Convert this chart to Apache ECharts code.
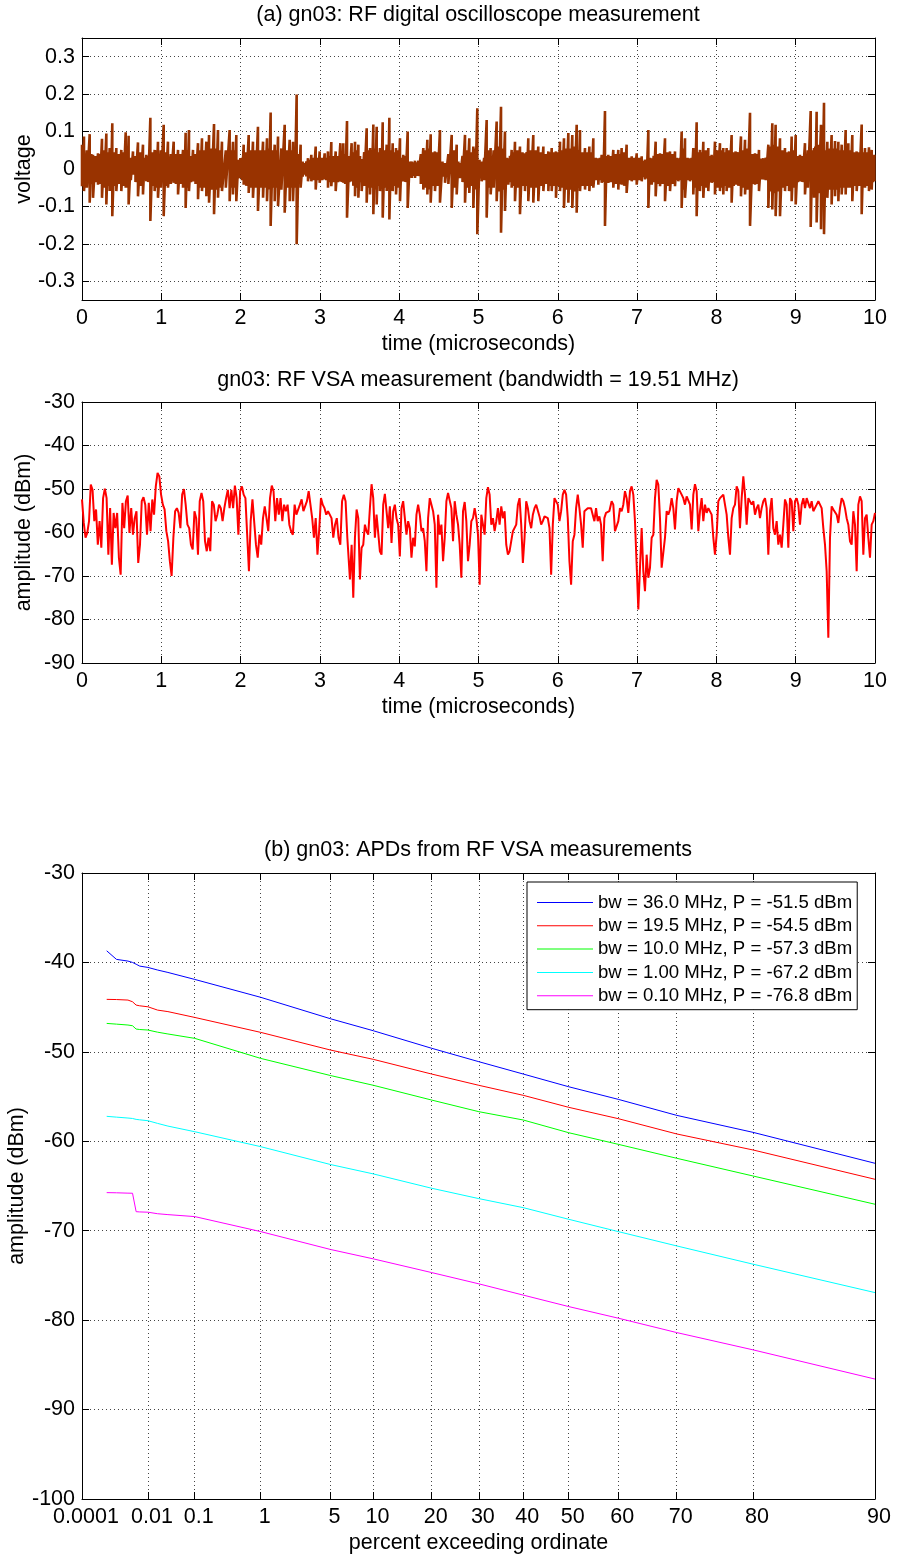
<!DOCTYPE html>
<html>
<head>
<meta charset="utf-8">
<script src="https://cdn.jsdelivr.net/npm/echarts@6.0.0/dist/echarts.min.js"></script>
<style>
  html, body { margin: 0; padding: 0; background: #fff; }
  #chart { width: 903px; height: 1557px; }
</style>
</head>
<body>
<div id="chart"></div>
<script>
// ---- (a) oscilloscope trace: time of each burst, its upper and lower excursion (V)
const scopeT = [
  0.0, 0.025, 0.097, 0.139, 0.202, 0.252, 0.307, 0.349, 0.382, 0.433, 0.496, 0.551, 0.588, 0.643, 0.706,
  0.769, 0.811, 0.862, 0.916, 0.958, 1.030, 1.084, 1.156, 1.211, 1.274, 1.307, 1.349, 1.400, 1.463, 1.513,
  1.568, 1.602, 1.665, 1.715, 1.765, 1.862, 1.904, 1.946, 1.997, 2.039, 2.102, 2.156, 2.219, 2.283, 2.333,
  2.379, 2.430, 2.472, 2.556, 2.619, 2.661, 2.707, 2.757, 2.808, 2.850, 2.892, 2.947, 2.997, 3.060, 3.102,
  3.144, 3.199, 3.258, 3.295, 3.342,
  3.400, 3.443, 3.485, 3.527, 3.590, 3.632, 3.674, 3.716, 3.758, 3.792, 3.842, 3.876, 3.918, 3.960, 4.010,
  4.052, 4.107, 4.157, 4.199, 4.241, 4.304, 4.355, 4.397, 4.451, 4.514, 4.578, 4.662, 4.725, 4.767, 4.830,
  4.884, 4.935, 4.985, 5.040, 5.103, 5.153, 5.229, 5.284, 5.334, 5.376, 5.418, 5.460, 5.523, 5.586, 5.628,
  5.691, 5.754, 5.818, 5.881, 5.923, 5.977, 6.028, 6.078, 6.133, 6.183, 6.238, 6.280, 6.343, 6.398, 6.448,
  6.511, 6.553,
  6.595, 6.637, 6.700, 6.763, 6.805, 6.868, 6.932, 6.995, 7.058, 7.100, 7.142, 7.184, 7.234, 7.289, 7.352,
  7.415, 7.478, 7.520, 7.562, 7.604, 7.667, 7.709, 7.751, 7.793, 7.835, 7.898, 7.940, 7.982, 8.045, 8.087,
  8.129, 8.192, 8.243, 8.310, 8.361, 8.424, 8.487, 8.537, 8.592, 8.655, 8.705, 8.747, 8.802, 8.865, 8.916,
  8.949, 9.000, 9.054, 9.117, 9.189, 9.231, 9.264, 9.319, 9.357, 9.399, 9.453, 9.496, 9.538, 9.580, 9.630,
  9.664, 9.714, 9.769, 9.832, 9.874, 9.924, 9.958, 9.992
];
const scopeHi = [
  0.065, 0.087, 0.093, 0.038, 0.042, 0.081, 0.095, 0.056, 0.122, 0.056, 0.051, 0.098, 0.089, 0.047, 0.071,
  0.065, 0.038, 0.137, 0.051, 0.073, 0.118, 0.073, 0.073, 0.051, 0.051, 0.097, 0.104, 0.051, 0.069, 0.082,
  0.073, 0.091, 0.120, 0.104, 0.073, 0.104, 0.073, 0.091, 0.029, 0.065, 0.091, 0.073, 0.113, 0.073, 0.082,
  0.151, 0.065, 0.087, 0.118, 0.078, 0.073, 0.199, 0.065, 0.016, 0.029, 0.038, 0.060, 0.047, 0.042, 0.047,
  0.072, 0.047, 0.069, 0.069, 0.128,
  0.069, 0.073, 0.065, 0.027, 0.109, 0.056, 0.119, 0.113, 0.056, 0.125, 0.065, 0.137, 0.069, 0.056, 0.082,
  0.038, 0.100, 0.020, 0.022, 0.022, 0.056, 0.078, 0.093, 0.047, 0.104, 0.016, 0.091, 0.065, 0.016, 0.091,
  0.082, 0.060, 0.162, 0.020, 0.131, 0.056, 0.127, 0.166, 0.100, 0.029, 0.051, 0.073, 0.060, 0.042, 0.082,
  0.091, 0.060, 0.060, 0.047, 0.056, 0.047, 0.073, 0.082, 0.096, 0.091, 0.118, 0.104, 0.056, 0.060, 0.082,
  0.029, 0.038,
  0.155, 0.038, 0.051, 0.051, 0.056, 0.065, 0.034, 0.042, 0.034, 0.025, 0.104, 0.029, 0.073, 0.042, 0.082,
  0.047, 0.047, 0.029, 0.100, 0.082, 0.029, 0.056, 0.125, 0.051, 0.073, 0.056, 0.038, 0.073, 0.069, 0.056,
  0.056, 0.091, 0.047, 0.087, 0.078, 0.150, 0.042, 0.051, 0.029, 0.065, 0.122, 0.118, 0.082, 0.056, 0.047,
  0.087, 0.091, 0.038, 0.069, 0.155, 0.056, 0.153, 0.118, 0.177, 0.073, 0.091, 0.075, 0.073, 0.065, 0.104,
  0.069, 0.091, 0.047, 0.119, 0.056, 0.058, 0.051, 0.038
];
const scopeLo = [
  -0.046, -0.059, -0.090, -0.077, -0.042, -0.077, -0.095, -0.059, -0.126, -0.059, -0.059, -0.050, -0.095, -0.015, -0.073,
  -0.068, -0.033, -0.139, -0.059, -0.077, -0.126, -0.050, -0.037, -0.068, -0.050, -0.104, -0.059, -0.033, -0.081, -0.059,
  -0.073, -0.090, -0.121, -0.077, -0.059, -0.086, -0.068, -0.086, -0.024, -0.042, -0.064, -0.077, -0.112, -0.077, -0.086,
  -0.152, -0.086, -0.099, -0.117, -0.086, -0.086, -0.201, -0.050, -0.015, -0.033, -0.033, -0.055, -0.037, -0.028, -0.050,
  -0.046, -0.059, -0.033, -0.037, -0.130,
  -0.033, -0.073, -0.077, -0.059, -0.090, -0.068, -0.121, -0.095, -0.059, -0.130, -0.059, -0.135, -0.059, -0.068, -0.086,
  -0.033, -0.104, -0.024, -0.024, -0.019, -0.055, -0.068, -0.090, -0.059, -0.090, -0.037, -0.104, -0.068, -0.024, -0.090,
  -0.064, -0.104, -0.174, -0.033, -0.130, -0.068, -0.086, -0.170, -0.112, -0.042, -0.050, -0.086, -0.121, -0.059, -0.086,
  -0.090, -0.086, -0.059, -0.059, -0.059, -0.077, -0.059, -0.104, -0.090, -0.104, -0.117, -0.059, -0.055, -0.059, -0.050,
  -0.042, -0.037,
  -0.152, -0.037, -0.050, -0.055, -0.042, -0.064, -0.033, -0.042, -0.033, -0.028, -0.104, -0.042, -0.073, -0.046, -0.086,
  -0.059, -0.046, -0.033, -0.104, -0.077, -0.033, -0.068, -0.126, -0.059, -0.077, -0.059, -0.037, -0.068, -0.059, -0.068,
  -0.059, -0.090, -0.042, -0.073, -0.068, -0.152, -0.042, -0.059, -0.028, -0.104, -0.108, -0.126, -0.126, -0.059, -0.059,
  -0.086, -0.095, -0.033, -0.068, -0.155, -0.077, -0.143, -0.161, -0.174, -0.077, -0.095, -0.073, -0.086, -0.068, -0.068,
  -0.050, -0.086, -0.059, -0.121, -0.050, -0.059, -0.055, -0.033
];
// half-height of the solid core band between one burst and the next (V)
const scopeCore = [
  0.045, 0.05, 0.04, 0.035, 0.04, 0.05, 0.045, 0.05, 0.045, 0.04, 0.045, 0.05, 0.03, 0.035, 0.045,
  0.03, 0.035, 0.045, 0.05, 0.05, 0.045, 0.04, 0.04, 0.04, 0.045, 0.05, 0.035, 0.04, 0.05, 0.05,
  0.05, 0.055, 0.055, 0.05, 0.05, 0.05, 0.05, 0.025, 0.03, 0.045, 0.05, 0.05, 0.05, 0.05, 0.055,
  0.05, 0.05, 0.055, 0.05, 0.05, 0.05, 0.04, 0.02, 0.02, 0.025, 0.03, 0.03, 0.03, 0.03, 0.035,
  0.035, 0.035, 0.035, 0.04, 0.035,
  0.045, 0.05, 0.035, 0.045, 0.05, 0.05, 0.055, 0.045, 0.05, 0.05, 0.055, 0.05, 0.045, 0.05, 0.03,
  0.035, 0.02, 0.018, 0.018, 0.04, 0.05, 0.055, 0.045, 0.045, 0.02, 0.04, 0.05, 0.02, 0.035, 0.05,
  0.045, 0.055, 0.025, 0.03, 0.05, 0.05, 0.06, 0.055, 0.03, 0.035, 0.045, 0.05, 0.045, 0.045, 0.05,
  0.05, 0.045, 0.04, 0.045, 0.045, 0.045, 0.05, 0.055, 0.055, 0.06, 0.05, 0.045, 0.045, 0.045, 0.03,
  0.03, 0.035,
  0.035, 0.035, 0.04, 0.04, 0.045, 0.03, 0.03, 0.03, 0.022, 0.025, 0.03, 0.035, 0.04, 0.04, 0.045,
  0.04, 0.03, 0.03, 0.055, 0.03, 0.03, 0.05, 0.045, 0.045, 0.05, 0.035, 0.035, 0.05, 0.05, 0.045,
  0.05, 0.045, 0.045, 0.05, 0.055, 0.04, 0.04, 0.028, 0.03, 0.06, 0.065, 0.06, 0.05, 0.045, 0.045,
  0.05, 0.035, 0.035, 0.05, 0.05, 0.06, 0.065, 0.06, 0.05, 0.055, 0.055, 0.055, 0.05, 0.05, 0.05,
  0.05, 0.045, 0.045, 0.045, 0.045, 0.045, 0.035
];

// ---- VSA amplitude (dBm), read in three stretches of time
const vsaSpans = [[0, 3.346], [3.358, 6.650], [6.658, 10]];
const vsaPart1 = [
  -52.4, -57.8, -61.2, -60.1, -57.4, -49.0, -50.2, -57.4, -54.7, -62.8, -57.4, -63.5, -52.1, -49.9, -52.1, -65.1,
  -54.4, -67.4, -55.5, -59.0, -55.5, -65.8, -69.7, -53.2, -59.0, -52.8, -51.5, -60.1, -54.4, -60.5, -56.7, -55.1,
  -67.0, -62.8, -52.8, -51.9, -53.6, -60.5, -53.2, -59.7, -52.4, -55.9, -49.4, -46.3, -47.1, -51.3, -53.6, -54.7,
  -59.7, -62.0, -66.6, -70.0, -61.2, -55.1, -54.4, -55.5, -59.0, -51.3, -50.0, -53.6, -58.2, -59.0, -62.8, -63.9,
  -55.1, -56.7, -65.1, -52.8, -50.9, -52.8, -62.0, -64.3, -61.2, -64.3, -52.8, -53.6, -57.4, -55.9, -53.6, -54.4,
  -57.4, -54.4, -52.1, -50.2, -54.4, -50.2, -54.4, -49.2, -52.1, -60.5, -50.5, -49.4, -51.3, -52.1, -60.5, -68.9,
  -57.4, -52.4, -52.1, -62.8, -65.8, -60.5, -62.8, -56.7, -54.0, -56.7, -59.7, -52.1, -49.2, -50.5, -57.4, -52.1,
  -55.9, -52.1, -57.4, -53.6, -55.1, -53.6, -58.2, -59.7, -60.5, -53.6, -55.9, -55.5, -53.6, -52.4, -55.1, -55.1,
  -52.8, -50.5, -50.9, -56.7, -61.2, -56.7, -65.1, -59.3, -52.1, -53.6, -54.4, -55.9, -55.1, -55.9, -56.7, -61.2,
  -58.2, -56.7, -61.2, -62.8, -52.8, -51.3, -52.8, -61.2
];
const vsaPart2 = [
  -61.2, -70.8, -62.8, -75.0, -61.2, -54.7, -56.7, -70.8, -63.5, -62.8, -58.2, -59.7, -60.5, -54.4, -48.9, -52.1,
  -61.2, -55.9, -55.5, -64.3, -65.1, -53.6, -51.1, -55.1, -59.0, -54.0, -62.4, -55.1, -53.6, -56.7, -58.2, -65.5,
  -54.4, -52.8, -52.8, -60.5, -57.4, -59.0, -65.8, -61.2, -63.2, -55.9, -53.6, -55.9, -59.7, -59.0, -62.0, -68.9,
  -56.7, -52.1, -51.9, -55.1, -58.2, -72.7, -55.9, -60.5, -58.2, -66.6, -61.2, -52.8, -50.9, -50.5, -54.4, -62.0,
  -52.8, -55.9, -58.2, -62.8, -70.4, -55.1, -53.0, -57.4, -66.6, -62.8, -57.4, -56.7, -54.4, -56.7, -60.5, -72.0,
  -55.9, -55.5, -60.5, -52.1, -49.6, -51.3, -58.2, -56.7, -59.7, -57.4, -54.4, -58.2, -54.0, -56.7, -55.1, -62.8,
  -65.1, -64.3, -62.0, -59.7, -59.7, -58.2, -53.6, -52.1, -58.2, -67.0, -61.2, -52.8, -54.4, -57.4, -59.0, -55.9,
  -54.4, -53.6, -53.6, -56.3, -58.2, -57.4, -56.3, -55.9, -56.7, -59.0, -69.7, -58.2, -52.1, -52.1, -53.6, -57.4,
  -55.1, -51.3, -50.2, -51.3, -56.7, -66.6, -72.0, -62.0, -60.5, -54.4, -51.3, -54.4, -58.2, -63.5, -55.1, -55.5,
  -54.4, -54.7, -54.4, -54.4, -57.4, -54.4, -57.4, -56.3, -58.2, -66.6, -56.7, -55.5, -55.9, -55.1
];
const vsaPart3 = [
  -55.5, -52.8, -53.6, -59.7, -60.1, -57.4, -54.4, -55.1, -53.6, -50.5, -52.1, -55.5, -50.5, -49.4, -51.3, -57.4,
  -67.4, -77.7, -68.1, -59.0, -68.9, -73.5, -65.1, -70.4, -68.1, -61.2, -60.5, -52.1, -47.9, -49.0, -56.7, -68.1,
  -68.5, -61.2, -55.1, -55.9, -54.7, -52.1, -54.4, -59.3, -52.8, -49.8, -50.2, -51.3, -52.1, -53.6, -51.7, -52.1,
  -53.6, -59.3, -51.3, -48.9, -50.5, -59.7, -55.1, -52.1, -57.4, -53.6, -55.5, -54.4, -54.4, -55.9, -61.2, -65.1,
  -60.5, -52.8, -52.1, -52.1, -51.3, -51.7, -55.9, -61.2, -65.1, -56.7, -54.4, -53.6, -49.4, -50.5, -59.0, -52.1,
  -47.1, -51.3, -58.2, -52.1, -51.7, -53.6, -52.8, -55.9, -54.4, -53.6, -56.7, -54.4, -52.8, -52.1, -54.4, -65.1,
  -55.1, -52.1, -59.0, -60.5, -57.4, -62.8, -60.5, -63.5, -58.2, -52.4, -53.6, -63.5, -52.1, -52.8, -59.7, -52.8,
  -52.1, -53.6, -58.2, -53.6, -52.1, -54.4, -52.1, -52.4, -54.4, -52.8, -55.1, -54.7, -53.6, -52.8, -52.4, -54.4,
  -59.0, -62.8, -68.9, -84.2, -61.2, -54.0, -54.7, -55.1, -55.9, -57.8, -54.4, -52.1, -52.8, -54.4, -56.7, -58.2,
  -62.0, -62.8, -55.1, -58.2, -68.9, -53.6, -51.7, -52.8, -65.1, -56.7, -55.9, -61.2, -65.8, -58.2, -57.4, -55.5
];

// ---- (b) APDs: percent exceeding ordinate vs amplitude (dBm)
const apdPct = [0.0007, 0.0014, 0.003, 0.004, 0.005, 0.0062, 0.01, 0.017, 0.029, 0.1, 1, 5, 10, 20, 30, 40, 50, 60, 70, 80, 90];
const apdBw360 = [-38.7, -39.66, -39.85, -40.0, -40.2, -40.41, -40.56, -40.85, -41.12, -41.9, -43.9, -46.3, -47.64, -49.6, -51.1, -52.48, -53.9, -55.31, -57.1, -59.0, -62.46];
const apdBw195 = [-44.13, -44.15, -44.21, -44.4, -44.77, -44.85, -44.96, -45.33, -45.5, -46.15, -47.82, -49.8, -50.84, -52.48, -53.74, -54.86, -56.2, -57.47, -59.18, -60.97, -64.25];
const apdBw100 = [-46.82, -46.9, -47.0, -47.08, -47.45, -47.5, -47.56, -47.8, -48.0, -48.49, -50.73, -52.65, -53.74, -55.39, -56.69, -57.62, -59.04, -60.34, -61.9, -63.88, -67.04];
const apdBw10 = [-57.21, -57.3, -57.4, -57.45, -57.55, -57.6, -57.7, -58.0, -58.3, -58.93, -60.6, -62.6, -63.65, -65.25, -66.41, -67.42, -68.72, -70.1, -71.7, -73.74, -76.92];
const apdBw01 = [-65.74, -65.76, -65.8, -65.81, -67.87, -67.9, -67.93, -68.1, -68.2, -68.42, -70.1, -72.1, -73.15, -74.68, -75.94, -77.2, -78.48, -79.78, -81.39, -83.32, -86.59];
const apdNames = [
  'bw = 36.0 MHz, P = -51.5 dBm',
  'bw = 19.5 MHz, P = -54.5 dBm',
  'bw = 10.0 MHz, P = -57.3 dBm',
  'bw = 1.00 MHz, P = -67.2 dBm',
  'bw = 0.10 MHz, P = -76.8 dBm'
];
const apdColors = ['#0000ff', '#ff0000', '#00ff00', '#00ffff', '#ff00ff'];
const apdTicks = [0.0001, 0.01, 0.1, 1, 5, 10, 20, 30, 40, 50, 60, 70, 80, 90];
const voltTicks = [-0.3, -0.2, -0.1, 0, 0.1, 0.2, 0.3];

// Rayleigh (APD) paper: x = -log10(-ln(p))
function apdX(pct) {
    return -Math.log10(-Math.log(pct / 100));
}

const FONT = '"Liberation Sans", Arial, sans-serif';
const txt = { color: '#000', fontFamily: FONT, fontSize: 21.5 };
const frameLine = { show: true, onZero: false, lineStyle: { color: '#000', width: 1 } };
const tickIn = { show: true, inside: true, length: 7, lineStyle: { color: '#000' } };
const dotted = { show: true, lineStyle: { color: '#444', width: 1, type: [1, 3] } };

function bottomAxis(grid, extra) {
    return Object.assign({
        type: 'value', gridIndex: grid, position: 'bottom',
        axisLine: frameLine, axisTick: tickIn, splitLine: dotted,
        axisLabel: Object.assign({ margin: 7 }, txt),
        nameLocation: 'middle', nameGap: 33, nameMoveOverlap: false, nameTextStyle: txt
    }, extra);
}
function topAxis(grid, extra) {
    return Object.assign({
        type: 'value', gridIndex: grid, position: 'top',
        axisLine: frameLine, axisTick: tickIn, splitLine: { show: false },
        axisLabel: { show: false }
    }, extra);
}
function leftAxis(grid, extra) {
    return Object.assign({
        type: 'value', gridIndex: grid, position: 'left',
        axisLine: frameLine, axisTick: tickIn, splitLine: dotted,
        axisLabel: Object.assign({ margin: 7 }, txt),
        nameLocation: 'middle', nameRotate: 90, nameMoveOverlap: false, nameTextStyle: txt
    }, extra);
}
function rightAxis(grid, extra) {
    return Object.assign({
        type: 'value', gridIndex: grid, position: 'right',
        axisLine: frameLine, axisTick: tickIn, splitLine: { show: false },
        axisLabel: { show: false }
    }, extra);
}

const tAxis = { min: 0, max: 10, interval: 1 };
const apdMin = apdX(0.0001), apdMax = apdX(90);
const apdTickX = apdTicks.map(apdX);

function apdLabel(v) {
    let best = apdTicks[0];
    apdTicks.forEach(function (p) {
        if (Math.abs(apdX(p) - v) < Math.abs(apdX(best) - v)) best = p;
    });
    return String(best);
}

// build series data: each burst's swing, then the core band before the next burst
const scopeData = [];
scopeT.forEach(function (t, i) {
    scopeData.push([t, scopeHi[i]]);
    scopeData.push([t, scopeLo[i]]);
    if (i < scopeCore.length) {
        const tm = (t + scopeT[i + 1]) / 2;
        scopeData.push([tm, scopeCore[i]]);
        scopeData.push([tm, -scopeCore[i]]);
    }
});
const vsaData = [];
[vsaPart1, vsaPart2, vsaPart3].forEach(function (part, k) {
    const t0 = vsaSpans[k][0], t1 = vsaSpans[k][1];
    part.forEach(function (v, i) {
        vsaData.push([t0 + i * (t1 - t0) / (part.length - 1), v]);
    });
});
const apdSets = [apdBw360, apdBw195, apdBw100, apdBw10, apdBw01];
const titleText = Object.assign({ fontWeight: 'normal' }, txt);

const chart = echarts.init(document.getElementById('chart'), null, { renderer: 'canvas' });
chart.setOption({
    animation: false,
    backgroundColor: '#fff',
    title: [
        { text: '(a) gn03: RF digital oscilloscope measurement', left: 478, top: 4, textAlign: 'center', padding: 0, textStyle: titleText },
        { text: 'gn03: RF VSA measurement (bandwidth = 19.51 MHz)', left: 478, top: 369, textAlign: 'center', padding: 0, textStyle: titleText },
        { text: '(b) gn03: APDs from RF VSA measurements', left: 478, top: 839, textAlign: 'center', padding: 0, textStyle: titleText }
    ],
    grid: [
        { left: 82, top: 38, width: 793, height: 262, outerBoundsMode: 'none' },
        { left: 82, top: 402, width: 793, height: 261, outerBoundsMode: 'none' },
        { left: 82, top: 873, width: 793, height: 626, outerBoundsMode: 'none' }
    ],
    legend: {
        data: apdNames,
        orient: 'vertical',
        left: 527, top: 882,
        padding: [10.5, 5, 4, 10],
        icon: 'rect',
        itemWidth: 56, itemHeight: 1, itemGap: 3.3,
        selectedMode: false,
        backgroundColor: '#fff', borderColor: '#000', borderWidth: 1, borderRadius: 0,
        textStyle: { color: '#000', fontFamily: FONT, fontSize: 18.6, lineHeight: 20 }
    },
    xAxis: [
        bottomAxis(0, Object.assign({ name: 'time (microseconds)' }, tAxis)),
        topAxis(0, tAxis),
        bottomAxis(1, Object.assign({ name: 'time (microseconds)' }, tAxis)),
        topAxis(1, tAxis),
        bottomAxis(2, {
            name: 'percent exceeding ordinate',
            min: apdMin, max: apdMax,
            axisTick: Object.assign({ customValues: apdTickX }, tickIn),
            axisLabel: Object.assign({ margin: 7, padding: [0, 0, 0, 8], customValues: apdTickX, formatter: apdLabel }, txt)
        }),
        topAxis(2, {
            min: apdMin, max: apdMax,
            axisTick: Object.assign({ customValues: apdTickX }, tickIn)
        })
    ],
    yAxis: [
        leftAxis(0, {
            name: 'voltage', nameGap: 47, min: -0.35, max: 0.35,
            axisTick: Object.assign({ customValues: voltTicks }, tickIn),
            axisLabel: Object.assign({
                margin: 7, customValues: voltTicks,
                formatter: function (v) { const r = Math.round(v * 10) / 10; return r === 0 ? '0' : String(r); }
            }, txt)
        }),
        rightAxis(0, { min: -0.35, max: 0.35, axisTick: Object.assign({ customValues: voltTicks }, tickIn) }),
        leftAxis(1, { name: 'amplitude (dBm)', nameGap: 47, min: -90, max: -30, interval: 10 }),
        rightAxis(1, { min: -90, max: -30, interval: 10 }),
        leftAxis(2, { name: 'amplitude (dBm)', nameGap: 54, min: -100, max: -30, interval: 10 }),
        rightAxis(2, { min: -100, max: -30, interval: 10 })
    ],
    series: [
        {
            name: 'oscilloscope', type: 'line', xAxisIndex: 0, yAxisIndex: 0,
            data: scopeData, symbol: 'none',
            color: '#993300', lineStyle: { color: '#993300', width: 2.6 }
        },
        {
            name: 'vsa', type: 'line', xAxisIndex: 2, yAxisIndex: 2,
            data: vsaData, symbol: 'none',
            color: '#ff0000', lineStyle: { color: '#ff0000', width: 2 }
        }
    ].concat(apdSets.map(function (vals, k) {
        return {
            name: apdNames[k], type: 'line', xAxisIndex: 4, yAxisIndex: 4,
            data: vals.map(function (v, i) { return [apdX(apdPct[i]), v]; }),
            symbol: 'none', color: apdColors[k],
            lineStyle: { color: apdColors[k], width: 1 }
        };
    }))
});
</script>
</body>
</html>
